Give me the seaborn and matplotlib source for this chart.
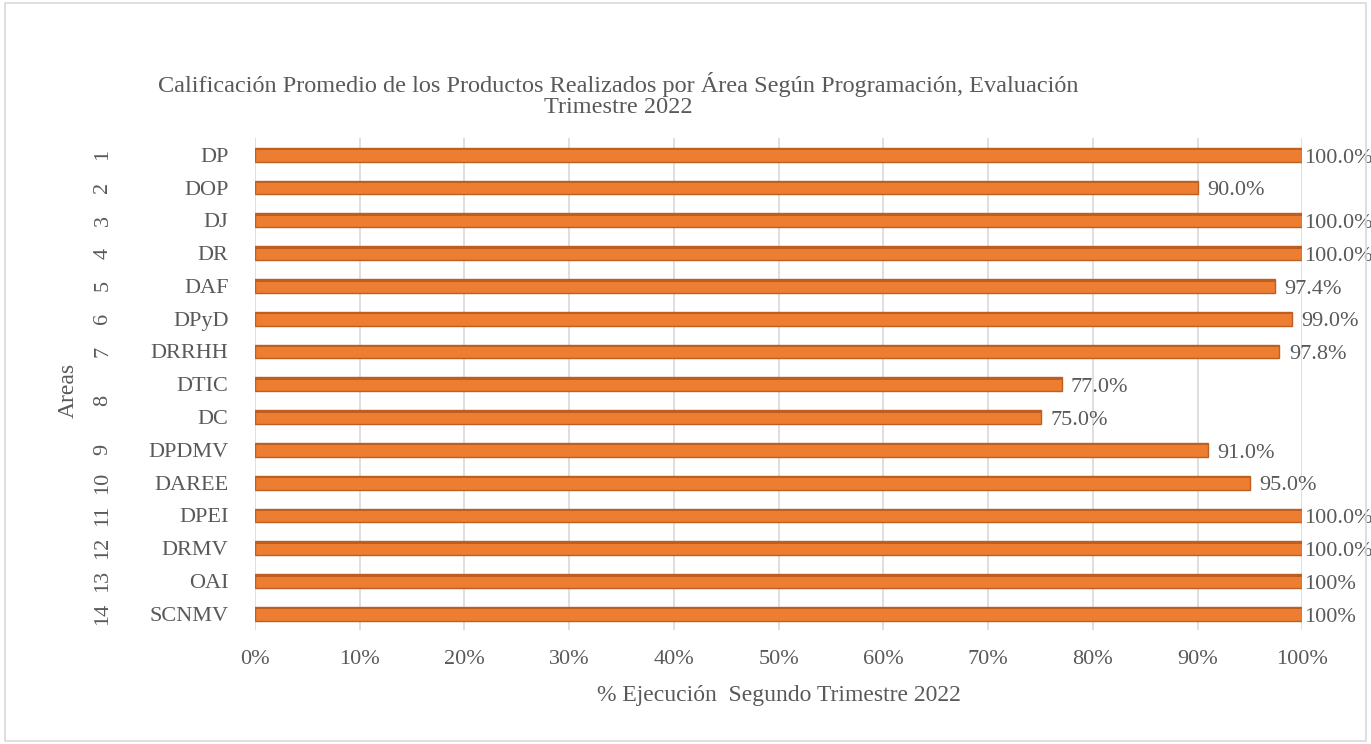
import numpy as np
import pandas as pd
import matplotlib
matplotlib.use('Agg')
import matplotlib.pyplot as plt
import matplotlib.transforms as mtransforms
from matplotlib.patches import Rectangle
from matplotlib.ticker import PercentFormatter
import seaborn as sns

# Data
areas = ['DP', 'DOP', 'DJ', 'DR', 'DAF', 'DPyD', 'DRRHH', 'DTIC', 'DC',
         'DPDMV', 'DAREE', 'DPEI', 'DRMV', 'OAI', 'SCNMV']
group_nums = ['1', '2', '3', '4', '5', '6', '7', '8', '8',
              '9', '10', '11', '12', '13', '14']
values = [100.0, 90.0, 100.0, 100.0, 97.4, 99.0, 97.8, 77.0, 75.0,
          91.0, 95.0, 100.0, 100.0, 100.0, 100.0]
value_labels = ['100.0%', '90.0%', '100.0%', '100.0%', '97.4%', '99.0%', '97.8%',
                '77.0%', '75.0%', '91.0%', '95.0%', '100.0%', '100.0%', '100%', '100%']

title = 'Calificación Promedio de los Productos Realizados por Área Según Programación, Evaluación\nTrimestre 2022'
xlabel = '% Ejecución  Segundo Trimestre 2022'
ylabel = 'Areas'

TXT = '#595959'
ORANGE = '#ED7D31'
EDGE = '#BE5F22'

sns.set_style('white')
plt.rcParams['font.family'] = ['Liberation Serif', 'DejaVu Serif']

df = pd.DataFrame({'area': areas, 'value': values})

fig = plt.figure(figsize=(13.71, 7.44), dpi=100)
ax = fig.add_axes([0.186, 0.153, 0.764, 0.661])

sns.barplot(data=df, x='value', y='area', color=ORANGE, width=0.42,
            edgecolor=EDGE, linewidth=1.0, saturation=1, ax=ax)

# darker top stripe for a slight 3D look
for p in ax.patches:
    ax.add_patch(Rectangle((p.get_x(), p.get_y()), p.get_width(), p.get_height() * 0.18,
                           facecolor=EDGE, edgecolor='none', zorder=p.get_zorder() + 0.1))

ax.set_xlim(0, 100)
ax.set_ylim(len(areas) - 0.5, -0.5)
ax.set_xticks(np.arange(0, 101, 10))
ax.xaxis.set_major_formatter(PercentFormatter(decimals=0))
ax.grid(axis='x', color='#D9D9D9', linewidth=1.2)
ax.set_axisbelow(True)
for s in ax.spines.values():
    s.set_visible(False)

ax.tick_params(axis='x', labelsize=16, colors=TXT, length=0, pad=14)
ax.tick_params(axis='y', labelsize=16, colors=TXT, length=0, pad=19)
ax.set_xlabel(xlabel, fontsize=17, color=TXT, labelpad=12)
ax.set_ylabel('')

# value labels
for i, (v, lab) in enumerate(zip(values, value_labels)):
    ax.text(v + 0.2 if v >= 100 else v + 0.9, i + 0.1, lab, va='center', ha='left',
            fontsize=16, color=TXT, clip_on=False)

# group number labels (multi-level category axis)
trans = mtransforms.blended_transform_factory(fig.transFigure, ax.transData)
seen = {}
for i, g in enumerate(group_nums):
    seen.setdefault(g, []).append(i)
for g, idx in seen.items():
    ax.text(103 / 1371, np.mean(idx), g, transform=trans, rotation=90,
            ha='center', va='center', fontsize=16, color=TXT)

fig.text(68 / 1371, 1 - 390 / 744, ylabel, rotation=90, ha='center', va='center',
         fontsize=17, color=TXT)
fig.text(0.451, 1 - 95 / 744, title, ha='center', va='center', fontsize=17.5,
         color=TXT, linespacing=1.05)

fig.patches.append(Rectangle((0.004, 0.004), 0.992, 0.992, transform=fig.transFigure,
                             fill=False, edgecolor='#D9D9D9', linewidth=1.2))

fig.savefig('out.png', dpi=100)
